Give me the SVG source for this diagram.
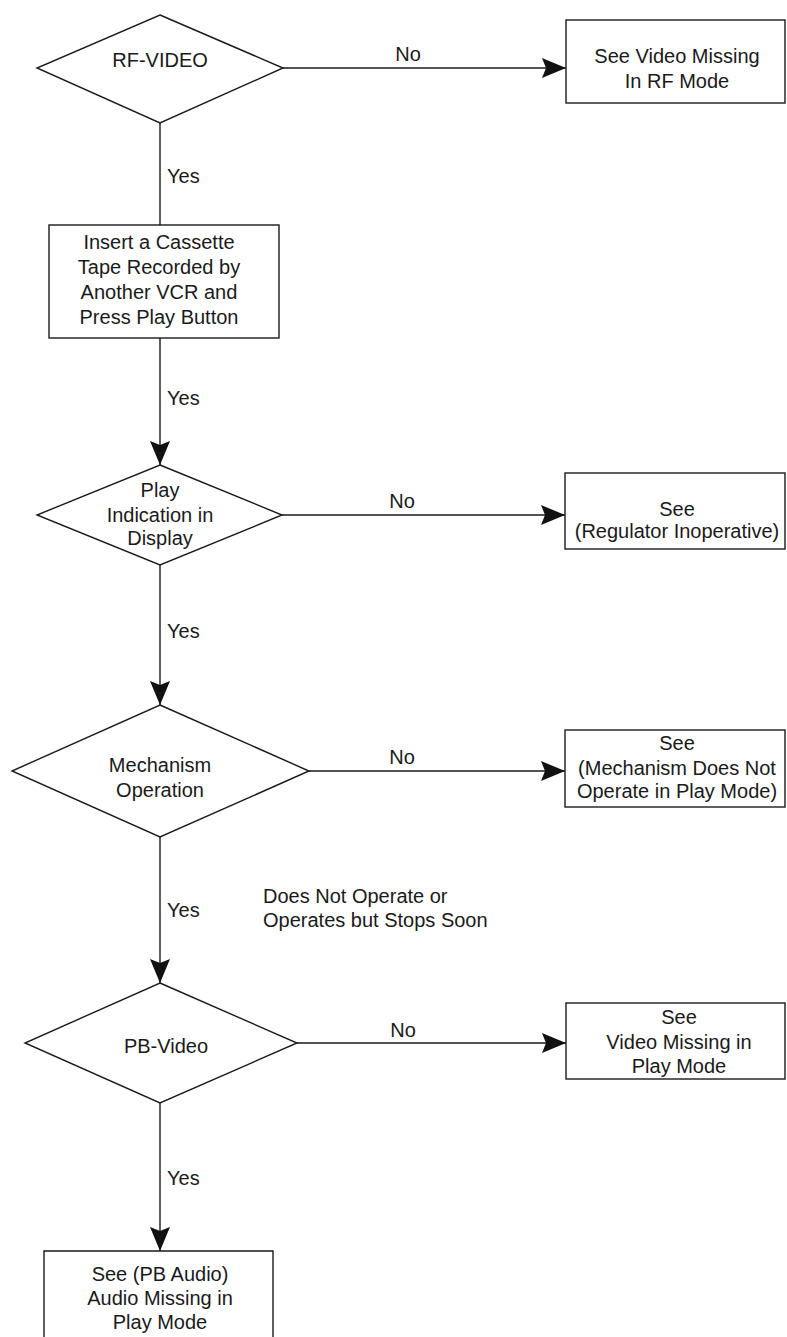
<svg xmlns="http://www.w3.org/2000/svg" width="787" height="1337" viewBox="0 0 787 1337">
<defs>
<style>
.s{fill:#fff;stroke:#1a1a1a;stroke-width:1.4}
.c{fill:none;stroke:#1a1a1a;stroke-width:1.4}
text{font-family:"Liberation Sans",Arial,sans-serif;font-size:20px;fill:#1a1a1a}
.m{text-anchor:middle}
</style>
<marker id="ah" viewBox="0 0 24 20" refX="24" refY="10" markerWidth="24" markerHeight="20" orient="auto" markerUnits="userSpaceOnUse">
<path d="M0,0 L24,10 L0,20 L4,10 z" fill="#111"/>
</marker>
</defs>
<rect width="787" height="1337" fill="#fff"/>
<g id="connectors">
<path class="c" d="M160,123 V225"/>
<path class="c" d="M283,68 H566" marker-end="url(#ah)"/>
<path class="c" d="M160,338 V465" marker-end="url(#ah)"/>
<path class="c" d="M282,515 H565" marker-end="url(#ah)"/>
<path class="c" d="M160,565 V705" marker-end="url(#ah)"/>
<path class="c" d="M309,771 H565" marker-end="url(#ah)"/>
<path class="c" d="M160,837 V983" marker-end="url(#ah)"/>
<path class="c" d="M297,1043 H566" marker-end="url(#ah)"/>
<path class="c" d="M160,1103 V1251" marker-end="url(#ah)"/>
<text x="167" y="183">Yes</text>
<text x="408" y="61" class="m">No</text>
<text x="167" y="405">Yes</text>
<text x="402" y="508" class="m">No</text>
<text x="167" y="638">Yes</text>
<text x="402" y="764" class="m">No</text>
<text x="167" y="917">Yes</text>
<text x="263" y="903">Does Not Operate or</text>
<text x="263" y="927">Operates but Stops Soon</text>
<text x="403" y="1037" class="m">No</text>
<text x="167" y="1185">Yes</text>
</g>
<g id="rf-video">
<polygon class="s" points="160,15 283,68 160,123 37,68"/>
<text x="160" y="67" class="m">RF-VIDEO</text>
</g>
<g id="video-missing-rf">
<rect class="s" x="566" y="20" width="219" height="83"/>
<text x="677" y="63" class="m">See Video Missing</text>
<text x="677" y="88" class="m">In RF Mode</text>
</g>
<g id="insert-cassette">
<rect class="s" x="49" y="225" width="230" height="113"/>
<text x="159" y="249" class="m">Insert a Cassette</text>
<text x="159" y="274" class="m">Tape Recorded by</text>
<text x="159" y="299" class="m">Another VCR and</text>
<text x="159" y="324" class="m">Press Play Button</text>
</g>
<g id="play-indication">
<polygon class="s" points="160,465 282,515 160,565 37,515"/>
<text x="160" y="497" class="m">Play</text>
<text x="160" y="522" class="m">Indication in</text>
<text x="160" y="545" class="m">Display</text>
</g>
<g id="regulator">
<rect class="s" x="565" y="473" width="220" height="76"/>
<text x="677" y="516" class="m">See</text>
<text x="677" y="538" class="m">(Regulator Inoperative)</text>
</g>
<g id="mechanism-operation">
<polygon class="s" points="160,705 309,771 160,837 12,771"/>
<text x="160" y="772" class="m">Mechanism</text>
<text x="160" y="797" class="m">Operation</text>
</g>
<g id="mechanism-not-operate">
<rect class="s" x="565" y="730" width="220" height="77"/>
<text x="677" y="750" class="m">See</text>
<text x="677" y="775" class="m">(Mechanism Does Not</text>
<text x="677" y="798" class="m">Operate in Play Mode)</text>
</g>
<g id="pb-video">
<polygon class="s" points="160,983 297,1043 160,1103 25,1043"/>
<text x="166" y="1053" class="m">PB-Video</text>
</g>
<g id="video-missing-play">
<rect class="s" x="566" y="1003" width="219" height="76"/>
<text x="679" y="1024" class="m">See</text>
<text x="679" y="1049" class="m">Video Missing in</text>
<text x="679" y="1073" class="m">Play Mode</text>
</g>
<g id="audio-missing">
<path class="s" d="M44,1340 V1251 H273 V1340"/>
<text x="160" y="1281" class="m">See (PB Audio)</text>
<text x="160" y="1305" class="m">Audio Missing in</text>
<text x="160" y="1329" class="m">Play Mode</text>
</g>
</svg>
